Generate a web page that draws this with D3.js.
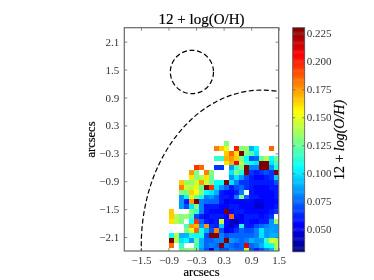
<!DOCTYPE html>
<html>
<head>
<meta charset="utf-8">
<script src="https://cdnjs.cloudflare.com/ajax/libs/d3/7.8.5/d3.min.js"></script>
<style>
html, body { margin: 0; padding: 0; background: #fff; }
svg { display: block; filter: blur(0.3px); }
text { font-family: "Liberation Serif", serif; }
</style>
</head>
<body>
<div id="chart"></div>
<script>
var n = null;
var tickValues = [-2.1, -1.5, -0.9, -0.3, 0.3, 0.9, 1.5, 2.1];
var xTickValues = [-1.5, -0.9, -0.3, 0.3, 0.9, 1.5];
var colorTicks = [0.05, 0.075, 0.1, 0.125, 0.15, 0.175, 0.2, 0.225];

// map cells, top row first, 22 columns
var cells = [
	[n,n,n,n,n,n,n,n,n,n,n,.13,n,n,n,n,n,n,n,n,n,n],
	[n,n,n,n,n,n,n,n,n,.18,.165,.15,n,.2,.13,.135,.09,.105,n,n,.185,n],
	[n,n,n,n,n,n,n,n,n,n,n,.165,.185,.16,.23,.13,.12,.1,n,n,n,n],
	[n,n,n,n,n,n,n,n,n,.115,.115,.17,.175,.165,.13,.105,.07,.075,.125,.14,.105,.125],
	[n,n,n,n,n,n,n,n,n,n,n,.16,.17,.205,.14,.115,.105,.1,.23,.23,.1,.12],
	[n,n,n,n,n,.195,.185,n,n,.065,.065,n,.085,.115,.13,.23,.08,.08,.23,.23,.085,.11],
	[n,n,n,n,.175,.13,n,.18,.13,n,n,n,.1,.13,.11,.23,.065,.06,.065,.07,.065,.23],
	[n,n,n,n,.16,.13,.14,.16,.125,n,n,n,.085,.1,.085,.07,.06,.056,.056,.06,.065,.095],
	[n,n,.165,.135,.135,.145,.175,.145,.125,.105,.105,.23,.1,.08,.065,.065,.06,.06,.06,.06,.06,.07],
	[n,n,.18,.145,.14,.15,.125,.23,.195,.1,.085,.075,.06,.07,.075,.065,.06,.056,.056,.056,.06,.06],
	[n,n,.13,.13,.165,.155,.13,.105,.1,.09,.06,.056,.056,.06,.08,n,.06,.056,.056,.056,.056,.06],
	[n,n,.085,.105,.15,.125,.11,.08,.085,.075,.06,.06,.056,.08,.13,.075,.06,.06,.056,.056,.056,.06],
	[n,n,.085,.06,.175,.23,.08,.075,.075,.075,.06,.05,.056,.056,.056,.056,.056,.05,.05,.056,.056,.056],
	[n,n,.085,.07,.1,.13,.08,.06,.06,.06,.056,.056,.06,.06,.056,.056,.056,.045,.045,.056,.056,.06],
	[.165,n,n,n,.13,.115,.08,.06,.056,.056,.056,.23,.056,.06,.06,.056,.056,.056,.056,.056,.06,.065],
	[.165,.14,.13,.135,.12,.07,.06,.056,.06,.06,.06,.056,.185,.056,.05,.06,.06,.06,.056,.06,.065,n],
	[.16,.14,.13,n,.105,.195,.075,.06,.056,.06,.145,.056,.045,.04,.056,.06,.056,.056,.06,.06,.085,.135],
	[n,n,n,.12,.175,.17,.085,.175,.065,.06,.095,.056,.045,.056,.11,.06,.06,.07,.075,.08,.085,.085],
	[n,n,n,.13,.15,.185,.11,.09,.07,.18,.07,.05,.056,.065,.075,.07,.07,.08,.1,.085,.085,.085],
	[.105,.14,.09,.09,.11,.105,.11,.07,.23,.23,.08,.07,.075,.075,.075,.075,.075,.08,.1,.085,.09,.09],
	[.23,.14,.1,.105,.085,.125,.09,.075,.075,.08,.08,.23,.085,.08,.075,.08,.09,.085,.085,.115,.15,.14],
	[.185,n,.115,n,n,.12,.09,.075,.08,.075,.23,.08,.075,.07,.075,.21,.075,.08,.09,.105,.11,.14],
	[n,n,.125,.13,.135,.125,.085,.07,.045,.08,.07,.07,.08,.075,.075,.145,.07,.06,.07,.08,.09,.13]
];

var cellW = 0.1087,
	cellH = 0.1043,
	gridRight = 1.5,
	gridTop = -0.0387;

// dashed ellipses in arcsec
var ellipses = [
	{cx: -0.39, cy: 1.448, rx: 0.47, ry: 0.466},
	{cx: 1.137, cy: -2.271, rx: 2.63, ry: 3.33}
];

var width = 374, height = 280;
var margin = {top: 27.7, left: 124.3, right: 278.7, bottom: 251};

var x = d3.scaleLinear().domain([-1.863, 1.5]).range([margin.left, margin.right]);
var y = d3.scaleLinear().domain([-2.4, 2.4]).range([margin.bottom, margin.top]);
var cbY = d3.scaleLinear().domain([0.03, 0.23]).range([251.7, 27.7]);

// matplotlib jet
function jet(t) {
	function ramp(v) {
		return Math.max(0, Math.min(1, v));
	}
	var r = ramp(Math.min(4 * t - 1.5, -4 * t + 4.5));
	var g = ramp(Math.min(4 * t - 0.5, -4 * t + 3.5));
	var b = ramp(Math.min(4 * t + 0.5, -4 * t + 2.5));
	return d3.rgb(r * 255, g * 255, b * 255).formatHex();
}
var color = function(v) {
	return jet((v - 0.03) / 0.2);
};
var fmt = function(d) {
	return d3.format(".1f")(d).replace("-", "\u2212");
};

var svg = d3.select("#chart").append("svg")
	.attr("width", width)
	.attr("height", height);

svg.append("clipPath").attr("id", "plot-clip").append("rect")
	.attr("x", margin.left)
	.attr("y", margin.top)
	.attr("width", margin.right - margin.left)
	.attr("height", margin.bottom - margin.top);

var plot = svg.append("g").attr("clip-path", "url(#plot-clip)");

cells.forEach(function(row, r) {
	row.forEach(function(d, i) {
		if (d === null) return;
		plot.append("rect")
			.attr("shape-rendering", "crispEdges")
			.attr("x", x(gridRight - (22 - i) * cellW))
			.attr("y", y(gridTop - r * cellH))
			.attr("width", x(cellW) - x(0))
			.attr("height", y(0) - y(cellH))
			.attr("fill", color(d));
	});
});

plot.selectAll("ellipse")
	.data(ellipses)
	.enter().append("ellipse")
	.attr("cx", function(d) { return x(d.cx); })
	.attr("cy", function(d) { return y(d.cy); })
	.attr("rx", function(d) { return x(d.rx) - x(0); })
	.attr("ry", function(d) { return y(0) - y(d.ry); })
	.attr("fill", "none")
	.attr("stroke", "#000")
	.attr("stroke-width", 1.2)
	.attr("stroke-dasharray", "5,2.6");

function styleAxis(g) {
	g.select(".domain").remove();
	g.selectAll("line").attr("stroke", "#555").attr("stroke-width", 0.7);
	g.selectAll("text")
		.attr("fill", "#333")
		.style("font-size", "11px");
}

// ticks on all four sides, pointing in
svg.append("g")
	.attr("transform", "translate(0," + margin.bottom + ")")
	.call(d3.axisBottom(x).tickValues(xTickValues).tickFormat(fmt).tickSizeInner(-3).tickPadding(5))
	.call(styleAxis);
svg.append("g")
	.attr("transform", "translate(0," + margin.top + ")")
	.call(d3.axisTop(x).tickValues(xTickValues).tickFormat("").tickSizeInner(-3))
	.call(styleAxis);
svg.append("g")
	.attr("transform", "translate(" + margin.left + ",0)")
	.call(d3.axisLeft(y).tickValues(tickValues).tickFormat(fmt).tickSizeInner(-3).tickPadding(5))
	.call(styleAxis);
svg.append("g")
	.attr("transform", "translate(" + margin.right + ",0)")
	.call(d3.axisRight(y).tickValues(tickValues).tickFormat("").tickSizeInner(-3))
	.call(styleAxis);

svg.append("rect")
	.attr("x", margin.left)
	.attr("y", margin.top)
	.attr("width", margin.right - margin.left)
	.attr("height", margin.bottom - margin.top)
	.attr("fill", "none")
	.attr("stroke", "#666")
	.attr("stroke-width", 1.2);

svg.append("text")
	.attr("x", 201.5)
	.attr("y", 23.5)
	.attr("text-anchor", "middle")
	.attr("fill", "#000")
	.attr("stroke", "#000")
	.attr("stroke-width", 0.2)
	.style("font-size", "15px")
	.text("12 + log(O/H)");

svg.append("text")
	.attr("x", 201.5)
	.attr("y", 276)
	.attr("text-anchor", "middle")
	.attr("stroke", "#000")
	.attr("stroke-width", 0.2)
	.style("font-size", "12.5px")
	.text("arcsecs");

svg.append("text")
	.attr("transform", "translate(95,139.5)rotate(-90)")
	.attr("text-anchor", "middle")
	.attr("stroke", "#000")
	.attr("stroke-width", 0.2)
	.style("font-size", "12.5px")
	.text("arcsecs");

// colorbar
var cbX = 292.7, cbW = 12;
var cbSteps = d3.range(0.03, 0.23, 0.001);
svg.append("g").selectAll("rect")
	.data(cbSteps)
	.enter().append("rect")
	.attr("x", cbX)
	.attr("width", cbW)
	.attr("y", function(d) { return cbY(d + 0.001); })
	.attr("height", function(d) { return cbY(d) - cbY(d + 0.001) + 0.4; })
	.attr("fill", function(d) { return color(d + 0.0005); });

svg.append("g")
	.attr("transform", "translate(" + (cbX + cbW) + ",0)")
	.call(d3.axisRight(cbY).tickValues(colorTicks).tickFormat(d3.format(".3f")).tickSizeInner(-2.5).tickPadding(2))
	.call(styleAxis);
svg.append("g")
	.attr("transform", "translate(" + cbX + ",0)")
	.call(d3.axisLeft(cbY).tickValues(colorTicks).tickFormat("").tickSizeInner(-2.5))
	.call(styleAxis);

svg.append("rect")
	.attr("x", cbX)
	.attr("y", 27.7)
	.attr("width", cbW)
	.attr("height", 224)
	.attr("fill", "none")
	.attr("stroke", "#555")
	.attr("stroke-width", 0.8);

var cbLabel = svg.append("text")
	.attr("transform", "translate(344,140)rotate(-90)")
	.attr("text-anchor", "middle")
	.attr("stroke", "#000")
	.attr("stroke-width", 0.2)
	.style("font-size", "14px");
cbLabel.append("tspan").text("12 + ");
cbLabel.append("tspan").attr("font-style", "italic").text("log(O/H)");
</script>
</body>
</html>
